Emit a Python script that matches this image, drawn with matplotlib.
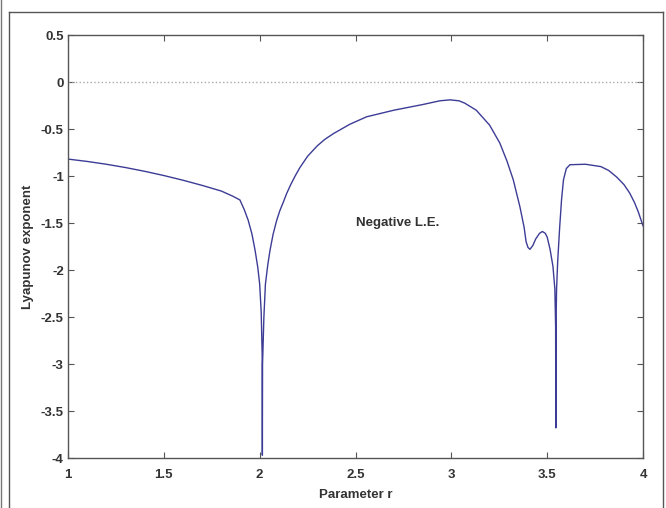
import numpy as np
import matplotlib
matplotlib.use('Agg')
import matplotlib.pyplot as plt
from matplotlib.lines import Line2D

plt.rcParams['font.family'] = ['Liberation Sans', 'DejaVu Sans']
plt.rcParams['axes.unicode_minus'] = False

# values (r, Lyapunov exponent)
r = [1.0, 1.1, 1.2, 1.3, 1.4, 1.5, 1.6, 1.7, 1.8, 1.86, 1.897,
     1.92, 1.94, 1.96, 1.976, 1.99, 2.0, 2.008, 2.013, 2.014,
     2.015, 2.022, 2.03, 2.042, 2.054, 2.07, 2.089, 2.105, 2.123, 2.14, 2.16,
     2.185, 2.21, 2.25, 2.3, 2.34, 2.384, 2.47, 2.558, 2.7, 2.85, 2.94, 2.993, 3.04,
     3.07, 3.13, 3.2, 3.253, 3.29, 3.323, 3.358, 3.38, 3.39, 3.40, 3.41,
     3.425, 3.44, 3.46, 3.475, 3.49, 3.50, 3.515, 3.53, 3.54, 3.544,
     3.545, 3.546, 3.549, 3.555, 3.565, 3.575, 3.585, 3.6, 3.619, 3.7,
     3.78, 3.82, 3.862, 3.9, 3.93, 3.955, 3.975, 4.0]
le = [-0.82, -0.845, -0.875, -0.91, -0.95, -0.995, -1.045, -1.10, -1.16, -1.215, -1.255,
      -1.36, -1.47, -1.62, -1.79, -1.97, -2.15, -2.45, -2.9, -3.97,
      -3.0, -2.5, -2.15, -1.95, -1.79, -1.62, -1.47, -1.37, -1.28, -1.19, -1.10,
      -1.0, -0.91, -0.79, -0.68, -0.61, -0.55, -0.45, -0.37, -0.30, -0.24, -0.20, -0.19, -0.20,
      -0.225, -0.30, -0.46, -0.65, -0.84, -1.04, -1.33, -1.55, -1.70, -1.76, -1.78,
      -1.74, -1.67, -1.61, -1.59, -1.61, -1.65, -1.78, -1.96, -2.2, -2.6,
      -3.68, -2.6, -2.2, -1.9, -1.55, -1.25, -1.04, -0.92, -0.88, -0.875,
      -0.9, -0.94, -1.01, -1.09, -1.18, -1.28, -1.38, -1.53]

xticks = [1, 1.5, 2, 2.5, 3, 3.5, 4]
xtick_labels = ['1', '1.5', '2', '2.5', '3', '3.5', '4']
yticks = [0.5, 0, -0.5, -1, -1.5, -2, -2.5, -3, -3.5, -4]
ytick_labels = ['0.5', '0', '-0.5', '-1', '-1.5', '-2', '-2.5', '-3', '-3.5', '-4']

fig = plt.figure(figsize=(6.66, 5.08), dpi=100)
ax = fig.add_axes([0.1021, 0.0984, 0.8634, 0.8327])

ax.plot([1, 4], [0, 0], linestyle=':', color='#a8a8a8', lw=1.0)
ax.plot(r, le, color='#3c3c96', lw=1.0)

ax.set_xlim(1, 4)
ax.set_ylim(-4, 0.5)
ax.set_xticks(xticks)
ax.set_xticklabels(xtick_labels, fontweight='bold')
ax.set_yticks(yticks)
ax.set_yticklabels(ytick_labels, fontweight='bold')
ax.tick_params(direction='in', length=4, width=0.8, color='#555555',
               labelsize=9.5, labelcolor='#333333', top=True, right=True)
ax.tick_params(axis='x', pad=8)
ax.tick_params(axis='y', pad=3)
for s in ax.spines.values():
    s.set_color('#555555')
    s.set_linewidth(1.0)

ax.set_xlabel('Parameter r', fontsize=9.5, fontweight='bold', color='#333333', labelpad=6)
ax.set_ylabel('Lyapunov exponent', fontsize=9.5, fontweight='bold', color='#333333', labelpad=5)
ax.text(2.5, -1.5, 'Negative L.E.', fontsize=9.5, fontweight='bold', color='#333333',
        va='center', ha='left')

# screenshot frame
fig.add_artist(Line2D([0.0135, 0.9955], [0.976, 0.976], color='#555555', lw=1.0))
fig.add_artist(Line2D([0.0135, 0.0135], [0.0, 0.976], color='#555555', lw=1.0))
fig.add_artist(Line2D([0.9955, 0.9955], [0.0, 0.976], color='#555555', lw=1.0))
fig.add_artist(Line2D([0.002, 0.002], [0.0, 1.0], color='#777777', lw=1.0))

fig.savefig('out.png', dpi=100)
